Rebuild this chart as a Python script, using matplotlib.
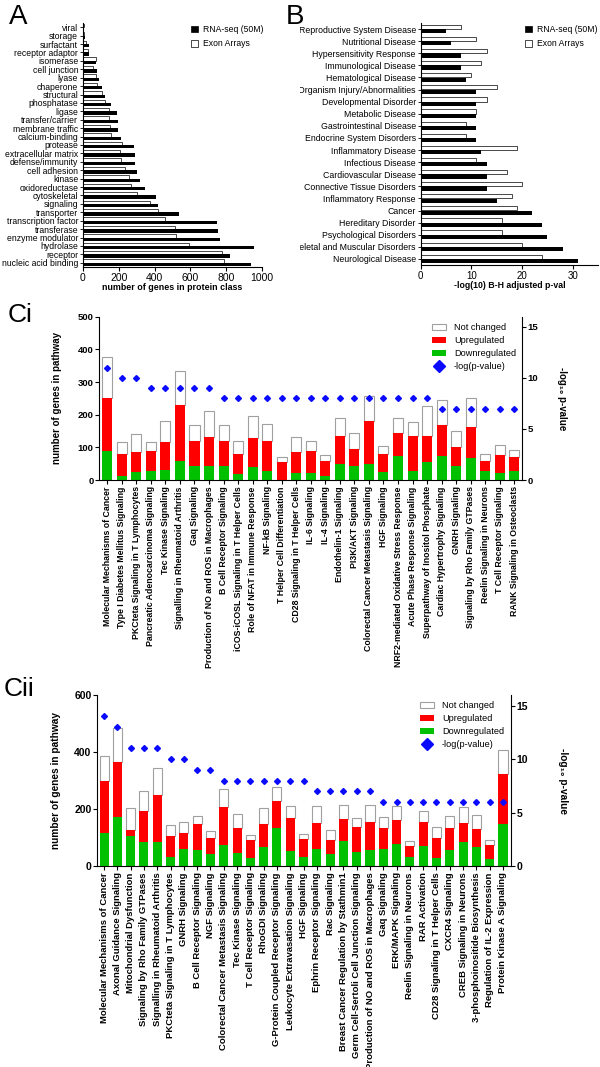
import matplotlib
matplotlib.use("Agg")
import matplotlib.pyplot as plt
import numpy as np
from matplotlib.patches import Patch
from matplotlib.lines import Line2D
from matplotlib.transforms import Bbox, TransformedBbox

plt.rcParams['font.family'] = ['Liberation Sans', 'DejaVu Sans']

# --------------------------------------------------
# Data
# --------------------------------------------------
# Panel A (top to bottom)
prot_classes = ['viral', 'storage', 'surfactant', 'receptor adaptor', 'isomerase',
                'cell junction', 'lyase', 'chaperone', 'structural', 'phosphatase',
                'ligase', 'transfer/carrier', 'membrane traffic', 'calcium-binding',
                'protease', 'extracellular matrix', 'defense/immunity', 'cell adhesion',
                'kinase', 'oxidoreductase', 'cytoskeletal', 'signaling', 'transporter',
                'transcription factor', 'transferase', 'enzyme modulator', 'hydrolase',
                'receptor', 'nucleic acid binding']
rnaseq_counts = [6, 11, 32, 35, 73, 80, 88, 104, 123, 156, 190, 196, 197, 212, 283,
                 289, 290, 304, 317, 346, 406, 421, 538, 749, 752, 765, 955, 823, 939]
exon_counts = [4, 7, 19, 30, 71, 56, 73, 78, 106, 125, 143, 147, 151, 158, 220,
               205, 212, 233, 255, 266, 304, 372, 417, 460, 512, 520, 594, 776, 790]

# Panel B (top to bottom)
diseases = ['Reproductive System Disease', 'Nutritional Disease', 'Hypersensitivity Response',
            'Immunological Disease', 'Hematological Disease', 'Organism Injury/Abnormalities',
            'Developmental Disorder', 'Metabolic Disease', 'Gastrointestinal Disease',
            'Endocrine System Disorders', 'Inflammatory Disease', 'Infectious Disease',
            'Cardiovascular Disease', 'Connective Tissue Disorders', 'Inflammatory Response',
            'Cancer', 'Hereditary Disorder', 'Psychological Disorders',
            'Skeletal and Muscular Disorders', 'Neurological Disease']
rnaseq_p = [5, 6, 8, 8, 9, 11, 11, 11, 11, 11, 12, 13, 13, 13, 15, 22, 24, 25, 28, 31]
exon_p = [8, 11, 13, 12, 10, 15, 13, 11, 9, 9, 19, 11, 17, 20, 18, 19, 16, 16, 20, 24]

# Panel Ci
ci_paths = ['Molecular Mechanisms of Cancer', 'Type I Diabetes Mellitus Signaling',
            'PKCteta Signaling in T Lymphocytes', 'Pancreatic Adenocarcinoma Signaling',
            'Tec Kinase Signaling', 'Signalling in Rheumatoid Arthritis', 'Gaq Signaling',
            'Production of NO and ROS in Macrophages', 'B Cell Receptor Signaling',
            'iCOS-iCOSL Signaling in T Helper Cells', 'Role of NFAT in Immune Response',
            'NF-kB Signaling', 'T Helper Cell Differentiation', 'CD28 Signaling in T Helper Cells',
            'IL-6 Signaling', 'IL-4 Signaling', 'Endothelin-1 Signaling', 'PI3K/AKT Signaling',
            'Colorectal Cancer Metastasis Signaling', 'HGF Signaling',
            'NRF2-mediated Oxidative Stress Response', 'Acute Phase Response Signaling',
            'Superpathway of Inositol Phosphate', 'Cardiac Hypertrophy Signaling',
            'GNRH Signaling', 'Signaling by Rho Family GTPases', 'Reelin Signaling in Neurons',
            'T Cell Receptor Signaling', 'RANK Signaling in Osteoclasts']
ci_down = [89, 13, 24, 28, 32, 58, 44, 44, 44, 17, 39, 27, 0, 20, 20, 13, 50, 42, 49, 23,
           74, 27, 56, 74, 44, 67, 28, 21, 29]
ci_up = [162, 66, 63, 60, 85, 171, 74, 89, 74, 62, 90, 91, 54, 66, 70, 46, 85, 52, 132, 56,
         69, 108, 78, 93, 57, 95, 31, 55, 40]
ci_nc = [127, 38, 53, 29, 63, 105, 49, 77, 51, 41, 68, 54, 15, 45, 30, 19, 54, 49, 77, 25,
         48, 43, 94, 77, 48, 90, 22, 30, 24]
ci_logp = [11, 10, 10, 9, 9, 9, 9, 9, 8, 8, 8, 8, 8, 8, 8, 8, 8, 8, 8, 8, 8, 8, 8,
           7, 7, 7, 7, 7, 7]

# Panel Cii
cii_paths = ['Molecular Mechanisms of Cancer', 'Axonal Guidance Signaling',
             'Mitochondrial Dysfunction', 'Signaling by Rho Family GTPases',
             'Signalling in Rheumatoid Arthritis', 'PKCteta Signaling in T Lymphocytes',
             'GNRH Signaling', 'B Cell Receptor Signaling', 'NGF Signaling',
             'Colorectal Cancer Metastasis Signaling', 'Tec Kinase Signaling',
             'T Cell Receptor Signaling', 'RhoGDI Signaling',
             'G-Protein Coupled Receptor Signaling', 'Leukocyte Extravasation Signaling',
             'HGF Signaling', 'Ephrin Receptor Signaling', 'Rac Signaling',
             'Breast Cancer Regulation by Stathmin1', 'Germ Cell-Sertoli Cell Junction Signaling',
             'Production of NO and ROS in Macrophages', 'Gaq Signaling', 'ERK/MAPK Signaling',
             'Reelin Signaling in Neurons', 'RAR Activation', 'CD28 Signaling in T Helper Cells',
             'CXCR4 Signaling', 'CREB Signaling in Neurons', '3-phosphoinositide Biosynthesis',
             'Regulation of IL-2 Expression', 'Protein Kinase A Signaling']
cii_down = [117, 172, 106, 85, 85, 32, 58, 57, 41, 73, 44, 28, 65, 132, 53, 33, 61, 41, 87,
            48, 57, 60, 76, 30, 70, 29, 56, 85, 68, 26, 147]
cii_up = [182, 193, 20, 109, 164, 72, 57, 89, 58, 133, 91, 62, 81, 96, 117, 61, 91, 51, 78,
          89, 96, 75, 85, 40, 86, 69, 77, 67, 61, 48, 175]
cii_nc = [88, 118, 76, 68, 94, 39, 38, 28, 23, 63, 49, 18, 56, 48, 39, 17, 59, 35, 48, 31,
          60, 37, 50, 17, 36, 38, 42, 55, 49, 16, 84]
cii_logp = [14, 13, 11, 11, 11, 10, 10, 9, 9, 8, 8, 8, 8, 8, 8, 8, 7, 7, 7, 7, 7,
            6, 6, 6, 6, 6, 6, 6, 6, 6, 6]

RED = '#ff0000'
GREEN = '#00c000'
BLUE = '#0a0aff'
EDGE = '#a0a0a0'

W, H = 600, 1067
fig = plt.figure(figsize=(W / 100, H / 100), dpi=100)


def px_axes(left, top, right, bottom):
    return fig.add_axes([left / W, 1 - bottom / H, (right - left) / W, (bottom - top) / H])


def px(x, y):
    return (x / W, 1 - y / H)


# --------------------------------------------------
# Panel A: protein classes
# --------------------------------------------------
axA = px_axes(83, 23, 262, 267)
yA = np.arange(len(prot_classes))[::-1]
axA.barh(yA + 0.2, exon_counts, height=0.4, color='white', edgecolor='black', linewidth=0.5)
axA.barh(yA - 0.2, rnaseq_counts, height=0.4, color='black')
axA.set_ylim(-0.5, len(prot_classes) - 0.5)
axA.set_xlim(0, 1000)
axA.set_xticks([0, 200, 400, 600, 800, 1000])
axA.set_yticks(yA)
axA.set_yticklabels(prot_classes, fontsize=6.2)
axA.tick_params(axis='y', length=2.5, width=0.6, pad=1)
axA.tick_params(axis='x', length=3, width=0.8, pad=1.5, labelsize=7.5)
axA.set_xlabel('number of genes in protein class', fontsize=6.4, fontweight='bold', labelpad=0)
for s in ['top', 'right']:
    axA.spines[s].set_visible(False)

leg_handles = [Patch(facecolor='black', edgecolor='black', linewidth=0.5),
               Patch(facecolor='white', edgecolor='black', linewidth=0.5)]
fig.legend(leg_handles, ['RNA-seq (50M)', 'Exon Arrays'], loc='upper left',
           bbox_to_anchor=px(191, 25), frameon=False, fontsize=6.2,
           handlelength=0.85, handleheight=0.85, handletextpad=0.5,
           labelspacing=0.6, borderpad=0, borderaxespad=0)

# --------------------------------------------------
# Panel B: disease enrichment
# --------------------------------------------------
axB = px_axes(420.7, 23, 598, 265)
yB = np.arange(len(diseases))[::-1]
axB.barh(yB + 0.18, exon_p, height=0.35, color='white', edgecolor='black', linewidth=0.5)
axB.barh(yB - 0.18, rnaseq_p, height=0.35, color='black')
axB.set_ylim(-0.5, len(diseases) - 0.5)
axB.set_xlim(0, 35)
axB.set_xticks([0, 10, 20, 30])
axB.set_yticks(yB)
axB.set_yticklabels(diseases, fontsize=6.3)
axB.tick_params(axis='y', length=2.5, width=0.6, pad=1)
axB.tick_params(axis='x', length=3, width=0.8, pad=1.5, labelsize=7)
axB.set_xlabel('-log(10) B-H adjusted p-val', fontsize=6.3, fontweight='bold', labelpad=0)
for s in ['top', 'right']:
    axB.spines[s].set_visible(False)
# panel B is cut at its left edge, as in the original figure tile
clipB = TransformedBbox(Bbox([[300 / W, 0.5], [1, 1]]), fig.transFigure)
for lab in axB.get_yticklabels():
    lab.set_clip_box(clipB)
    lab.set_clip_on(True)

fig.legend(leg_handles, ['RNA-seq (50M)', 'Exon Arrays'], loc='upper left',
           bbox_to_anchor=px(525, 25), frameon=False, fontsize=6.2,
           handlelength=0.85, handleheight=0.85, handletextpad=0.5,
           labelspacing=0.6, borderpad=0, borderaxespad=0)


# --------------------------------------------------
# Panels Ci / Cii: stacked pathway bars + -log p
# --------------------------------------------------
def pathway_panel(ax, paths, down, up, nc, logp, ymax, yticks, xlim, width,
                  xfont, tickfont, labfont, leg_anchor):
    x = np.arange(len(paths))
    down = np.array(down)
    up = np.array(up)
    nc = np.array(nc)
    ax.bar(x, nc, width, bottom=down + up, color='white', edgecolor=EDGE, linewidth=0.8)
    ax.bar(x, up, width, bottom=down, color=RED, linewidth=0)
    ax.bar(x, down, width, color=GREEN, linewidth=0)
    ax.set_xlim(*xlim)
    ax.set_ylim(0, ymax)
    ax.set_yticks(yticks)
    ax.set_xticks(x)
    ax.set_xticklabels(paths, rotation=90, fontsize=xfont, fontweight='bold')
    for lab in ax.get_yticklabels():
        lab.set_fontweight('bold')
    ax.tick_params(axis='y', labelsize=tickfont, length=3, width=0.8, pad=1)
    ax.tick_params(axis='x', length=3, width=0.8, pad=1.5)
    ax.set_ylabel('number of genes in pathway', fontsize=labfont, fontweight='bold',
                  ha='center', va='center')
    for s in ['top', 'right']:
        ax.spines[s].set_visible(False)

    axr = ax.twinx()
    axr.plot(x, logp, linestyle='none', marker='D', color=BLUE, markersize=3)
    axr.set_ylim(0, 16)
    axr.set_yticks([0, 5, 10, 15])
    for lab in axr.get_yticklabels():
        lab.set_fontweight('bold')
    axr.tick_params(axis='y', labelsize=tickfont, length=3, width=0.8, pad=1)
    axr.set_ylabel('-log\u2081\u2080 p-value', fontsize=labfont, fontweight='bold',
                   rotation=270, ha='center', va='center')
    for s in ['top', 'left', 'bottom']:
        axr.spines[s].set_visible(False)

    handles = [Patch(facecolor='white', edgecolor=EDGE, linewidth=0.8),
               Patch(facecolor=RED), Patch(facecolor=GREEN),
               Line2D([], [], linestyle='none', marker='D', color=BLUE, markersize=6.5)]
    fig.legend(handles, ['Not changed', 'Upregulated', 'Downregulated', '-log(p-value)'],
               loc='upper left', bbox_to_anchor=leg_anchor, frameon=False, fontsize=6.6,
               handlelength=1.55, handleheight=0.6, handletextpad=0.85,
               labelspacing=0.45, borderpad=0, borderaxespad=0)
    return axr


axC1 = px_axes(99, 316.7, 521.7, 480)
axC1r = pathway_panel(axC1, ci_paths, ci_down, ci_up, ci_nc, ci_logp, 500,
                      [0, 100, 200, 300, 400, 500], (-0.57, 28.51), 0.69,
                      6.3, 6.8, 7.0, px(432, 323))
axC1.yaxis.set_label_coords((57 - 99) / 422.7, 0.5)
axC1r.yaxis.set_label_coords((562 - 99) / 422.7, 0.5)

axC2 = px_axes(97, 695, 510.7, 866)
axC2r = pathway_panel(axC2, cii_paths, cii_down, cii_up, cii_nc, cii_logp, 600,
                      [0, 200, 400, 600], (-0.53, 30.58), 0.68,
                      6.8, 7.5, 7.3, px(420, 701))
axC2.yaxis.set_label_coords((56 - 97) / 413.7, 0.5)
axC2r.yaxis.set_label_coords((563 - 97) / 413.7, 0.5)

# Panel letters
fig.text(*px(9, 4), 'A', fontsize=20, va='top', ha='left')
fig.text(*px(286, 4), 'B', fontsize=20, va='top', ha='left')
fig.text(*px(8, 303), 'Ci', fontsize=19, va='top', ha='left')
fig.text(*px(4, 677), 'Cii', fontsize=19, va='top', ha='left')

fig.savefig('out.png', dpi=100)
